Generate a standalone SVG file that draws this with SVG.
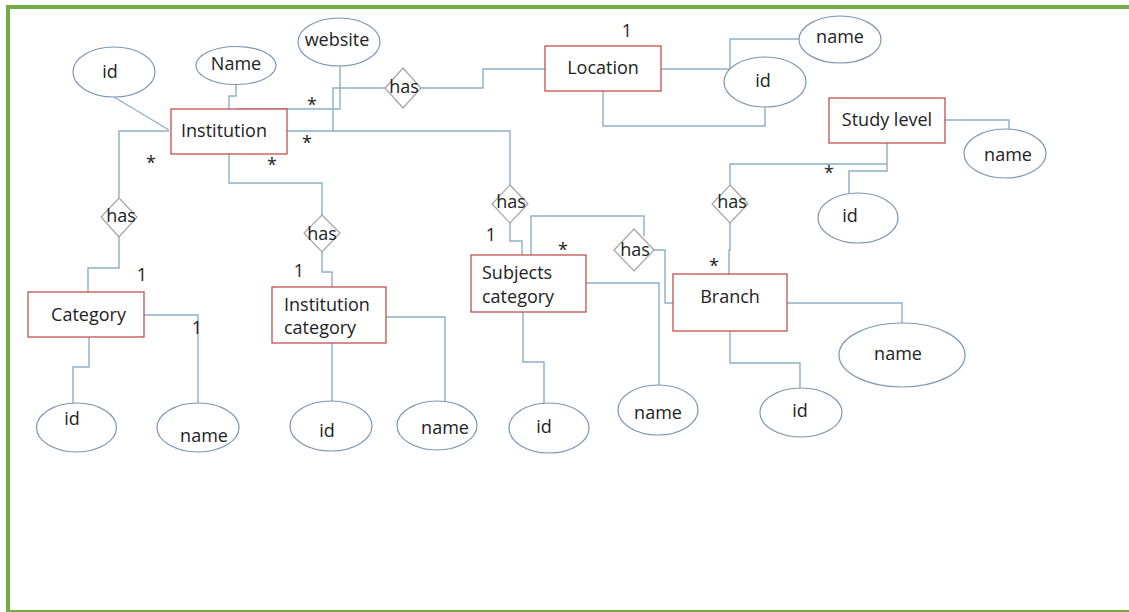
<svg xmlns="http://www.w3.org/2000/svg" width="1129" height="612" viewBox="0 0 1129 612">
<style>
text{font-family:"Open Sans","Noto Sans",sans-serif;font-size:18px;fill:#222}
.m{text-anchor:middle}
.ent{fill:#fff;stroke:#C0504D;stroke-width:1.3}
.att{fill:#fff;stroke:#7C97B0;stroke-width:1.2}
.rel{fill:#fff;stroke:#A3A3A3;stroke-width:1.2}
.c{fill:none;stroke:#8DAEC6;stroke-width:1.4}
.b{fill:#70AD47}
</style>
<rect width="1129" height="612" fill="#fff"/>
<g id="border">
<rect class="b" x="6" y="5" width="1123" height="4"/>
<rect class="b" x="6" y="5" width="4" height="607"/>
<rect class="b" x="6" y="610" width="1123" height="2"/>
</g>
<g id="connectors">
<polyline class="c" points="114,97 169,130"/>
<polyline class="c" points="236,84 236,96 229,96 229,109"/>
<polyline class="c" points="238,109 340,109 340,66"/>
<polyline class="c" points="283,131 510,131 510,185"/>
<polyline class="c" points="333,131 333,88 386,88"/>
<polyline class="c" points="421,88 483,88 483,69 545,69"/>
<polyline class="c" points="661,69 730,69"/>
<polyline class="c" points="730,69 730,39 800,39"/>
<polyline class="c" points="603,91 603,126 765,126 765,107"/>
<polyline class="c" points="169,131 119,131 119,198"/>
<polyline class="c" points="119,237 119,268 88,268 88,292"/>
<polyline class="c" points="89,337 89,367 73,367 73,403"/>
<polyline class="c" points="144,315 198,315 198,403"/>
<polyline class="c" points="229,154 229,183 322,183 322,215"/>
<polyline class="c" points="322,252 322,272 332,272 332,287"/>
<polyline class="c" points="332,343 332,402"/>
<polyline class="c" points="386,317 445,317 445,413"/>
<polyline class="c" points="510,223 510,241 522,241 522,255"/>
<polyline class="c" points="531,255 531,216 644,216 644,236"/>
<polyline class="c" points="653,250 665,250 665,303 673,303"/>
<polyline class="c" points="586,283 659,283 659,385"/>
<polyline class="c" points="523,312 523,362 544,362 544,410"/>
<polyline class="c" points="887,143 887,171 849,171 849,200"/>
<polyline class="c" points="887,164 730,164 730,185"/>
<polyline class="c" points="730,223 730,250 729,250 729,274"/>
<polyline class="c" points="945,120 1009,120 1009,138"/>
<polyline class="c" points="730,331 730,363 800,363 800,390"/>
<polyline class="c" points="787,303 902,303 902,323"/>
</g>
<g id="institution"><rect class="ent" x="171" y="109" width="116" height="45"/><text class="m" x="224" y="137">Institution</text></g>
<g id="inst-id"><ellipse class="att" cx="114" cy="72" rx="41" ry="25"/><text class="m" x="110" y="78">id</text></g>
<g id="inst-name"><ellipse class="att" cx="236" cy="65.5" rx="40" ry="19"/><text class="m" x="236" y="70">Name</text></g>
<g id="inst-website"><ellipse class="att" cx="339" cy="42" rx="41" ry="24"/><text class="m" x="337" y="46">website</text></g>
<g id="has-location"><polygon class="rel" points="403,68 421,88 403,108 385,88"/><text class="m" x="404" y="93">has</text></g>
<g id="location"><rect class="ent" x="545" y="46" width="116" height="45"/><text class="m" x="603" y="74">Location</text></g>
<g id="loc-name"><ellipse class="att" cx="840" cy="39.5" rx="41" ry="23.5"/><text class="m" x="840" y="43">name</text></g>
<g id="loc-id"><ellipse class="att" cx="765" cy="82" rx="41" ry="25"/><text class="m" x="763" y="87">id</text></g>
<g id="study-level"><rect class="ent" x="829" y="98" width="116" height="45"/><text class="m" x="887" y="126">Study level</text></g>
<g id="sl-name"><ellipse class="att" cx="1005" cy="153.5" rx="41" ry="24.5"/><text class="m" x="1008" y="161">name</text></g>
<g id="sl-id"><ellipse class="att" cx="858" cy="218" rx="40" ry="25"/><text class="m" x="850" y="222">id</text></g>
<g id="has-category"><polygon class="rel" points="119,198 137,217 119,237 101,217"/><text class="m" x="121" y="222">has</text></g>
<g id="category"><rect class="ent" x="28" y="292" width="116" height="45"/><text class="m" x="88.5" y="321">Category</text></g>
<g id="cat-id"><ellipse class="att" cx="76.5" cy="427.5" rx="40" ry="24.5"/><text class="m" x="72" y="425">id</text></g>
<g id="cat-name"><ellipse class="att" cx="198" cy="427.5" rx="41" ry="24.5"/><text class="m" x="204" y="442">name</text></g>
<g id="has-instcat"><polygon class="rel" points="322,215 340,233 322,252 304,233"/><text class="m" x="322" y="240">has</text></g>
<g id="institution-category"><rect class="ent" x="272" y="287" width="114" height="56"/><text x="284" y="311">Institution</text><text x="284" y="334">category</text></g>
<g id="ic-id"><ellipse class="att" cx="331" cy="426" rx="41" ry="25"/><text class="m" x="327" y="437">id</text></g>
<g id="ic-name"><ellipse class="att" cx="437" cy="425.5" rx="40" ry="24.5"/><text class="m" x="445" y="434">name</text></g>
<g id="has-subjects"><polygon class="rel" points="510,185 528,204 510,223 492,204"/><text class="m" x="511" y="208">has</text></g>
<g id="subjects-category"><rect class="ent" x="471" y="255" width="115" height="57"/><text x="482" y="279">Subjects</text><text x="482" y="303">category</text></g>
<g id="sc-name"><ellipse class="att" cx="658" cy="410" rx="40" ry="25"/><text class="m" x="658" y="419">name</text></g>
<g id="sc-id"><ellipse class="att" cx="549" cy="428" rx="40" ry="25"/><text class="m" x="544" y="433">id</text></g>
<g id="has-subj-branch"><polygon class="rel" points="634,229 654,250 634,271 614,250"/><text class="m" x="635" y="256">has</text></g>
<g id="has-branch"><polygon class="rel" points="730,185 748,204 730,223 712,204"/><text class="m" x="732" y="208">has</text></g>
<g id="branch"><rect class="ent" x="673" y="274" width="114" height="57"/><text class="m" x="730" y="303">Branch</text></g>
<g id="br-name"><ellipse class="att" cx="902" cy="355" rx="63" ry="32"/><text class="m" x="898" y="360">name</text></g>
<g id="br-id"><ellipse class="att" cx="801" cy="412.5" rx="41" ry="24.5"/><text class="m" x="800" y="417">id</text></g>
<g id="cardinalities">
<text class="m" x="627" y="37">1</text>
<text class="m" x="312" y="111">*</text>
<text class="m" x="307" y="149">*</text>
<text class="m" x="151" y="169">*</text>
<text class="m" x="272" y="171">*</text>
<text class="m" x="142" y="281">1</text>
<text class="m" x="197" y="334">1</text>
<text class="m" x="299" y="277">1</text>
<text class="m" x="491" y="241">1</text>
<text class="m" x="563" y="256">*</text>
<text class="m" x="714" y="272">*</text>
<text class="m" x="829" y="179">*</text>
</g>
</svg>
